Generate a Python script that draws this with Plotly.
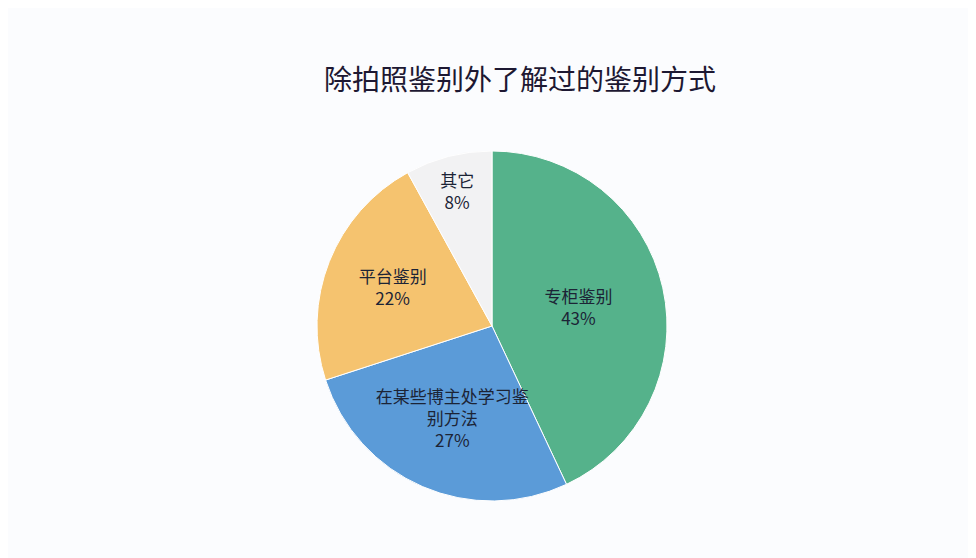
import plotly.graph_objects as go

labels = ["专柜鉴别", "在某些博主处学习鉴别方法", "平台鉴别", "其它"]
display_labels = ["专柜鉴别", "在某些博主处学习鉴<br>别方法", "平台鉴别", "其它"]
values = [43, 27, 22, 8]
colors = ["#55b28b", "#5b9bd8", "#f5c36f", "#f2f2f3"]
title = "除拍照鉴别外了解过的鉴别方式"

W, H = 976, 558
OFF = 8  # page body margin
cx, cy, r = 492 - OFF, 326 - OFF, 175

fig = go.Figure(go.Pie(
    labels=labels,
    values=values,
    text=display_labels,
    texttemplate="%{text}<br>%{value}%",
    textposition="inside",
    insidetextorientation="horizontal",
    sort=False,
    direction="clockwise",
    rotation=0,
    marker=dict(colors=colors, line=dict(color="white", width=1)),
    textfont=dict(family="Noto Sans CJK SC", size=17, color="#1c2436"),
    showlegend=False,
    hoverinfo="label+percent",
    domain=dict(x=[(cx - r) / W, (cx + r) / W], y=[(H - cy - r) / H, (H - cy + r) / H]),
))

fig.update_layout(
    width=W, height=H,
    margin=dict(l=0, r=0, t=0, b=0),
    paper_bgcolor="#fbfcfe",
    plot_bgcolor="#fbfcfe",
    uniformtext=dict(minsize=17, mode="show"),
    annotations=[dict(
        text=title, x=(520 - OFF) / W, y=1 - (78 - OFF) / H, xref="paper", yref="paper",
        xanchor="center", yanchor="middle", showarrow=False,
        font=dict(family="Noto Sans CJK SC", size=28, color="#1d1832"),
    )],
)

fig.write_html("out.html")
